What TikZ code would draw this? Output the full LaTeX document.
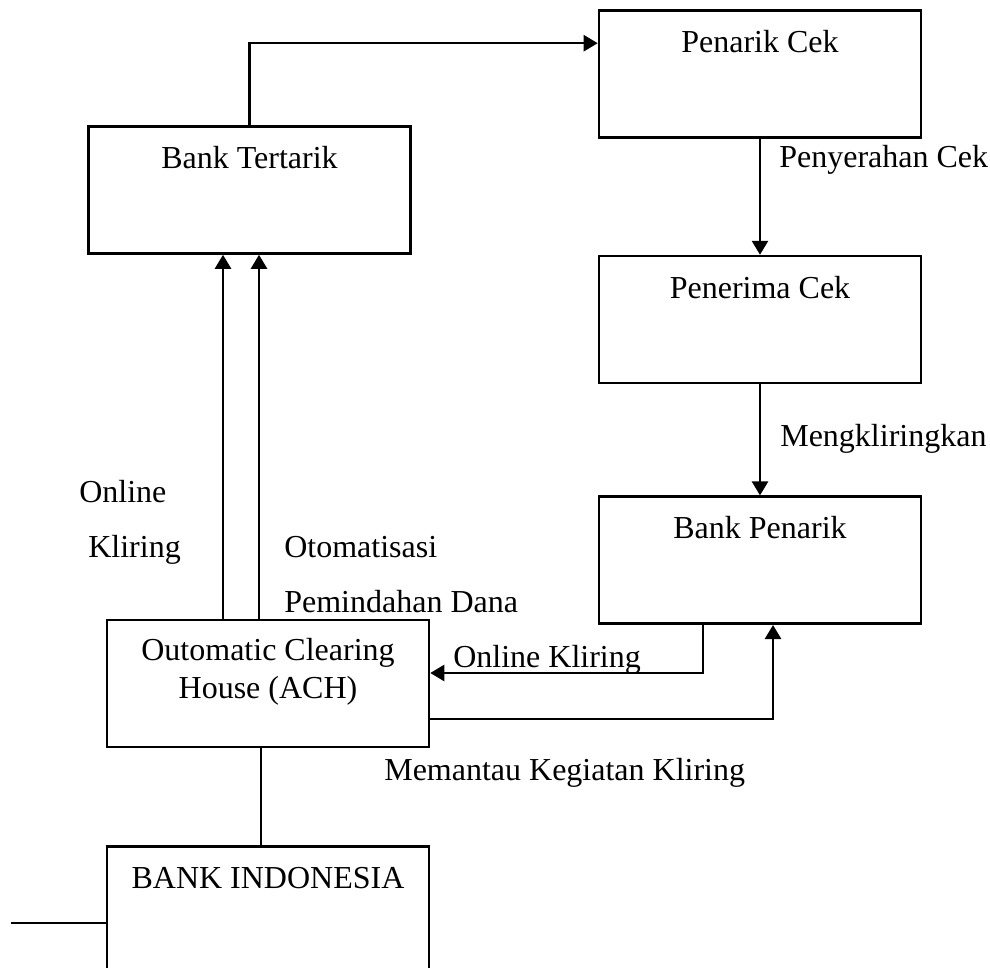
\documentclass[tikz,border=0pt]{standalone}
\usepackage{fontspec}
\setmainfont{Liberation Serif}
\usetikzlibrary{arrows.meta,positioning}
\begin{document}
\begin{tikzpicture}[
  x=0.5pt, y=-0.5pt, font=\fontsize{16}{19}\selectfont, line width=1.3pt,
  box/.style={draw, align=center, minimum width=161pt, inner sep=0pt, text height=21pt, text depth=42.5pt},
  pf/.style={-{Triangle[length=7pt,width=8pt]}},
  lbl/.style={anchor=base west, inner sep=0pt}
]
\useasboundingbox (0,0) rectangle (990,968);
\node[box] (pc) at (760,74) {Penarik Cek};
\node[box, below=58pt of pc] (pr) {Penerima Cek};
\node[box, below=55.5pt of pr] (bp) {Bank Penarik};
\node[box] (bt) at (249.5,190) {Bank Tertarik};
\node[box, text height=39pt, text depth=24.5pt] (ach) at (268,683.5) {Outomatic Clearing\\House (ACH)};
\node[box, below=48.5pt of ach] (bi) {BANK INDONESIA};
\node[lbl] (l-pyr) at (778,168) {Penyerahan Cek};
\node[lbl] (l-mgk) at (779,446) {Mengkliringkan};
\node[lbl] (l-onl) at (78,502) {Online};
\node[lbl] (l-klr) at (87,557) {Kliring};
\node[lbl] (l-oto) at (283,557) {Otomatisasi};
\node[lbl] (l-pmd) at (283,612) {Pemindahan Dana};
\node[lbl] (l-okl) at (452,667) {Online Kliring};
\node[lbl] (l-mmt) at (383,780) {Memantau Kegiatan Kliring};
\draw[pf] (bt.north) |- ([yshift=-17pt]pc.north west);
\draw[pf] (pc) -- (pr);
\draw[pf] (pr) -- (bp);
\draw[pf] ([xshift=-22.5pt]ach.north) -- ([xshift=-22.5pt]ach.north |- bt.south);
\draw[pf] ([xshift=-4.5pt]ach.north) -- ([xshift=-4.5pt]ach.north |- bt.south);
\draw[pf] ([xshift=-28.5pt]bp.south) |- ([yshift=5.25pt]ach.east);
\draw[pf] ([yshift=-17.75pt]ach.east) -| ([xshift=6.5pt]bp.south);
\draw ([xshift=-3.5pt]ach.south) -- ([xshift=-3.5pt]ach.south |- bi.north);
\coordinate (bi-in) at (11,923);
\draw (bi-in) -- (bi-in -| bi.west);
\end{tikzpicture}
\end{document}
